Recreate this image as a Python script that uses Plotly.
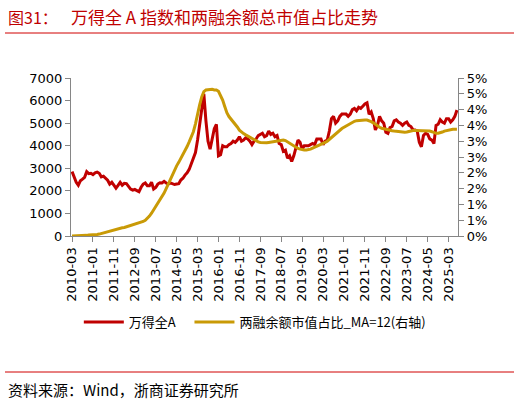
import plotly.graph_objects as go

# monthly categories, 2010-03 .. 2025-07
months = []
for yr in range(2010, 2026):
    for mo in range(1, 13):
        if (yr == 2010 and mo < 3) or (yr == 2025 and mo > 7):
            continue
        months.append('%d-%02d' % (yr, mo))

# Wind All A index (left axis)
wind_all_a = [
    2850, 2600, 2380, 2250, 2450, 2520, 2600, 2850, 2760, 2780,               # 2010
    2720, 2800, 2830, 2780, 2620, 2650, 2560, 2470, 2300, 2380, 2250, 2120,   # 2011
    2240, 2380, 2250, 2330, 2320, 2200, 2080, 2030, 2060, 2010, 1960, 2160,   # 2012
    2300, 2350, 2230, 2230, 2380, 2080, 2150, 2300, 2360, 2350, 2420, 2350,   # 2013
    2300, 2350, 2300, 2280, 2300, 2320, 2480, 2560, 2700, 2800, 2950, 3220,   # 2014
    3450, 3700, 4250, 4900, 5550, 6300, 5100, 4200, 3850, 4400, 4750, 4950,   # 2015
    3550, 3600, 4000, 3950, 3950, 4050, 4100, 4200, 4150, 4250, 4400, 4200,   # 2016
    4250, 4350, 4300, 4200, 4050, 4200, 4300, 4450, 4500, 4550, 4400, 4450,   # 2017
    4650, 4500, 4550, 4400, 4450, 4100, 4050, 3750, 3800, 3450, 3550, 3300,   # 2018
    3550, 3900, 4250, 4150, 3850, 4000, 4000, 4000, 4050, 4100, 4050, 4300,   # 2019
    4300, 4300, 4050, 4200, 4250, 4650, 5200, 5300, 5000, 5100, 5300, 5400,   # 2020
    5400, 5400, 5300, 5400, 5600, 5650, 5550, 5700, 5650, 5750, 5850, 5900,   # 2021
    5400, 5500, 5200, 4700, 4900, 5300, 5100, 5000, 4600, 4550, 4800, 4850,   # 2022
    5100, 5150, 5050, 5000, 4900, 5000, 5050, 4900, 4850, 4700, 4700, 4650,   # 2023
    4150, 3950, 4450, 4550, 4500, 4300, 4250, 4100, 4900, 4950, 5150, 5050,   # 2024
    5000, 5200, 5200, 5050, 5150, 5300, 5580,                                 # 2025
]

# margin balance / total market cap, 12M moving average, % (right axis)
margin_ratio_ma12 = [
    0.00, 0.00, 0.01, 0.01, 0.01, 0.02, 0.02, 0.02, 0.03, 0.03,               # 2010
    0.03, 0.04, 0.05, 0.06, 0.08, 0.09, 0.11, 0.13, 0.15, 0.17, 0.19, 0.21,   # 2011
    0.22, 0.24, 0.26, 0.27, 0.29, 0.31, 0.33, 0.35, 0.37, 0.39, 0.41, 0.43,   # 2012
    0.46, 0.50, 0.56, 0.63, 0.72, 0.82, 0.92, 1.02, 1.12, 1.24, 1.36, 1.50,   # 2013
    1.65, 1.80, 1.97, 2.10, 2.22, 2.33, 2.45, 2.57, 2.70, 2.83, 2.98, 3.12,   # 2014
    3.30, 3.55, 3.88, 4.15, 4.40, 4.57, 4.62, 4.63, 4.63, 4.64, 4.62, 4.62,   # 2015
    4.58, 4.45, 4.30, 4.10, 3.90, 3.78, 3.70, 3.62, 3.55, 3.45, 3.35, 3.28,   # 2016
    3.24, 3.20, 3.16, 3.12, 3.08, 3.04, 3.01, 2.98, 2.96, 2.95, 2.95, 2.95,   # 2017
    2.96, 2.97, 2.98, 2.99, 3.00, 3.02, 3.04, 3.04, 3.02, 2.98, 2.93, 2.88,   # 2018
    2.84, 2.80, 2.77, 2.75, 2.73, 2.72, 2.72, 2.73, 2.75, 2.78, 2.81, 2.83,   # 2019
    2.85, 2.88, 2.92, 2.96, 3.00, 3.06, 3.12, 3.18, 3.24, 3.30, 3.35, 3.40,   # 2020
    3.44, 3.48, 3.52, 3.56, 3.60, 3.63, 3.65, 3.66, 3.67, 3.67, 3.67, 3.67,   # 2021
    3.65, 3.62, 3.58, 3.53, 3.48, 3.44, 3.41, 3.39, 3.37, 3.35, 3.34, 3.33,   # 2022
    3.32, 3.31, 3.30, 3.29, 3.28, 3.28, 3.29, 3.31, 3.33, 3.34, 3.34, 3.34,   # 2023
    3.34, 3.33, 3.33, 3.33, 3.33, 3.32, 3.30, 3.27, 3.25, 3.25, 3.26, 3.29,   # 2024
    3.32, 3.34, 3.36, 3.37, 3.38, 3.38, 3.38,                                 # 2025
]

x_ticks = months[::10]
left_ticks = [0, 1000, 2000, 3000, 4000, 5000, 6000, 7000]
right_ticks = [0, 0.5, 1, 1.5, 2, 2.5, 3, 3.5, 4, 4.5, 5]
right_labels = ['0%', '1%', '1%', '2%', '2%', '3%', '3%', '4%', '4%', '5%', '5%']

RED = '#C00000'
GOLD = '#C99A06'
AXIS = '#868686'
CJK = 'Noto Sans CJK SC'
TICKFONT = dict(family='DejaVu Sans', size=13, color='#000000')

fig = go.Figure()
# nbsp padding widens the gap between the two legend entries
fig.add_trace(go.Scatter(x=months, y=wind_all_a, name='万得全A\u00a0\u00a0\u00a0', mode='lines',
                         line=dict(color=RED, width=3)))
fig.add_trace(go.Scatter(x=months, y=margin_ratio_ma12, name='两融余额市值占比_MA=12(右轴)',
                         mode='lines', line=dict(color=GOLD, width=3), yaxis='y2'))

fig.update_layout(
    width=520, height=403,
    margin=dict(l=71, r=62, t=78, b=167),
    paper_bgcolor='white', plot_bgcolor='white',
    showlegend=True,
    legend=dict(orientation='h', x=0.475, xanchor='center', y=-0.545, yanchor='middle',
                font=dict(family=CJK, size=13, color='#000000'),
                itemwidth=40, tracegroupgap=0),
    xaxis=dict(type='category', range=[-0.5, len(months) - 0.5],
               tickmode='array', tickvals=x_ticks, ticktext=x_ticks,
               tickangle=-90, tickfont=TICKFONT,
               showline=True, linecolor=AXIS, linewidth=1.3,
               ticks='outside', ticklen=5, tickcolor=AXIS, showgrid=False),
    yaxis=dict(range=[0, 7000], tickvals=left_ticks, tickfont=TICKFONT,
               showline=True, linecolor=AXIS, linewidth=1.3,
               ticks='outside', ticklen=5, tickcolor=AXIS, showgrid=False, zeroline=False),
    yaxis2=dict(range=[0, 5], overlaying='y', side='right',
                tickvals=right_ticks, ticktext=right_labels, tickfont=TICKFONT,
                showline=True, linecolor=AXIS, linewidth=1.3,
                ticks='outside', ticklen=5, tickcolor=AXIS, showgrid=False, zeroline=False),
)

# title, source and red rules (paper coords: plot area 71..458 x, 78..236 y)
def px(x):
    return (x - 71) / 387.0

def py(y):
    return (236 - y) / 158.0

fig.add_annotation(x=px(6), y=py(17), xref='paper', yref='paper', xanchor='left', yanchor='middle',
                   text='图31：', showarrow=False, font=dict(family=CJK, size=16, color=RED))
fig.add_annotation(x=px(69), y=py(17), xref='paper', yref='paper', xanchor='left', yanchor='middle',
                   text='万得全 A 指数和两融余额总市值占比走势', showarrow=False,
                   font=dict(family=CJK, size=17, color=RED))
fig.add_annotation(x=px(6), y=py(389), xref='paper', yref='paper', xanchor='left', yanchor='middle',
                   text='资料来源：Wind，浙商证券研究所', showarrow=False,
                   font=dict(family=CJK, size=15, color='#000000'))

for yy in [33, 372]:
    fig.add_shape(type='line', xref='paper', yref='paper', x0=px(5), x1=px(514), y0=py(yy), y1=py(yy),
                  line=dict(color='#D00000', width=1))

# page body has an 8px default margin; drop it so the figure sits at 0,0
fig.write_html('out.html', config={'displayModeBar': False},
               post_script="document.body.style.margin='0';")
